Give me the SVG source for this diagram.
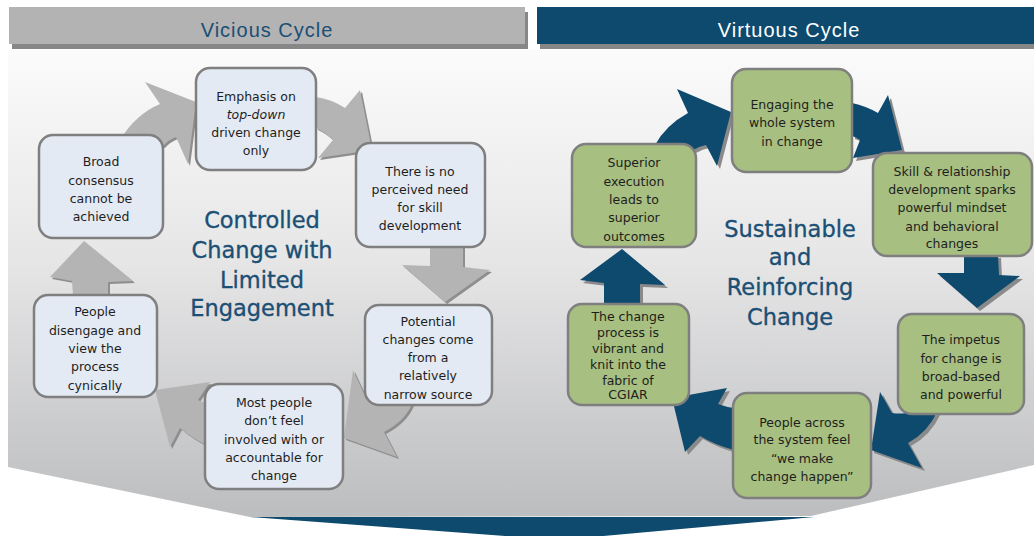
<svg xmlns="http://www.w3.org/2000/svg" xmlns:xlink="http://www.w3.org/1999/xlink" width="1034" height="536" viewBox="0 0 1034 536">
<style>
.hdrL{fill:#b3b3b3}
.hdrR{fill:#0d4a6e}
.hdrS{fill:#878787}
.htxt{font-family:"Liberation Sans",Arial,sans-serif;font-size:20px;letter-spacing:1px;text-anchor:middle}
.title{font-family:"DejaVu Sans",Verdana,sans-serif;font-size:22.5px;fill:#1b4f74;stroke:#1b4f74;stroke-width:0.35;text-anchor:middle}
.boxL{fill:#e4eaf3;stroke:#7f7f7f;stroke-width:2.5}
.boxR{fill:#a7bf80;stroke:#7f7f7f;stroke-width:2.5}
.t{font-family:"DejaVu Sans",Verdana,sans-serif;font-size:12.5px;fill:#1e1e1e;text-anchor:middle}
.ga{fill:#b4b4b4}
.gs{fill:#8e8e8e}
.ba{fill:#0d4a6e}
.bs{fill:#8a8a8a}
</style>
<defs>
<linearGradient id="bg" x1="0" y1="50" x2="0" y2="517" gradientUnits="userSpaceOnUse">
<stop offset="0" stop-color="#fbfbfb"/>
<stop offset="0.45" stop-color="#e6e6e7"/>
<stop offset="1" stop-color="#bcbdbf"/>
</linearGradient>
<path id="aA" d="M120 140 Q136 114 160 104 L145 82 L196 102 L188 164 L176 137 Q168 140 163 146 Z"/>
<path id="aB" d="M316 97 Q331 99 345 108 L360 90 L372 150 L318 158 L333 140 Q325 132 316 128 Z"/>
<path id="aC" d="M430 246 L430 266 L402 265 L445 302 L490 270 L463 267 L463 246 Z"/>
<path id="aD" d="M412 404 Q405 421 384 432 L397 457 L344 438 L353 370 L366 398 Q374 401 381 401 Z"/>
<path id="aE" d="M206 445 Q192 438 180 428 L170 447 L155 390 L210 382 L198 400 Q202 402 206 403 Z"/>
<path id="aF" d="M73 296 L72 281 L50 277 L84 241 L133 281 L108 282 L108 296 Z"/>
<path id="rA" d="M655 145 Q666 125 688 113 L677 89 L731 112 L717 166 L706 145 Q700 146 693 150 Z"/>
<path id="rB" d="M852 103 Q866 106 878 113 L888 95 L902 150 L853 158 L860 140 Q856 137 852 136 Z"/>
<path id="rC" d="M964 255 L964 273 L937 273 L977 308 L1020 276 L999 275 L998 255 Z"/>
<path id="rD" d="M937 412 Q928 432 908 443 L922 468 L871 450 L880 392 L892 413 Q900 414 906 413 Z"/>
<path id="rE" d="M734 450 Q715 445 700 436 L685 452 L672 398 L727 388 L718 404 Q726 407 734 408 Z"/>
<path id="rF" d="M604 305 L604 283 L580 280 L622 249 L665 285 L640 284 L640 305 Z"/>
</defs>

<g id="background">
<rect x="0" y="0" width="1034" height="536" fill="#ffffff"/>
<polygon points="8,50 1034,50 1034,465 811,516 250,517 8,467" fill="url(#bg)"/>
<polygon points="250,517 814,517 559,540" fill="#0d4a6e"/>
</g>

<g id="header-vicious">
<rect class="hdrS" x="12" y="12" width="516" height="37"/>
<rect class="hdrL" x="9" y="7" width="516" height="37"/>
<text class="htxt" x="267" y="37" fill="#1b4f74">Vicious Cycle</text>
</g>
<g id="header-virtuous">
<rect class="hdrS" x="540" y="12" width="494" height="37"/>
<rect class="hdrR" x="537" y="7" width="497" height="37"/>
<text class="htxt" x="789" y="37" fill="#ffffff">Virtuous Cycle</text>
</g>

<g id="connectors">
<use href="#aA" class="gs" transform="translate(2,2)"/><use href="#aA" class="ga"/>
<use href="#aB" class="gs" transform="translate(2,2)"/><use href="#aB" class="ga"/>
<use href="#aC" class="gs" transform="translate(2,2)"/><use href="#aC" class="ga"/>
<use href="#aD" class="gs" transform="translate(2,2)"/><use href="#aD" class="ga"/>
<use href="#aE" class="gs" transform="translate(2,2)"/><use href="#aE" class="ga"/>
<use href="#aF" class="gs" transform="translate(2,2)"/><use href="#aF" class="ga"/>
<use href="#rA" class="bs" transform="translate(3,3)"/><use href="#rA" class="ba"/>
<use href="#rB" class="bs" transform="translate(3,3)"/><use href="#rB" class="ba"/>
<use href="#rC" class="bs" transform="translate(3,3)"/><use href="#rC" class="ba"/>
<use href="#rD" class="bs" transform="translate(3,3)"/><use href="#rD" class="ba"/>
<use href="#rE" class="bs" transform="translate(3,3)"/><use href="#rE" class="ba"/>
<use href="#rF" class="bs" transform="translate(3,3)"/><use href="#rF" class="ba"/>
</g>

<g id="title-left">
<text class="title" x="262" y="228">Controlled</text>
<text class="title" x="262" y="258">Change with</text>
<text class="title" x="262" y="288">Limited</text>
<text class="title" x="262" y="316">Engagement</text>
</g>
<g id="title-right">
<text class="title" x="790" y="237">Sustainable</text>
<text class="title" x="790" y="265">and</text>
<text class="title" x="790" y="295">Reinforcing</text>
<text class="title" x="790" y="325">Change</text>
</g>

<g id="node-emphasis">
<rect class="boxL" x="196" y="68" width="120" height="102" rx="14"/>
<text class="t" x="256" y="101">Emphasis on</text>
<text class="t" x="256" y="119" font-style="italic">top-down</text>
<text class="t" x="256" y="137">driven change</text>
<text class="t" x="256" y="155">only</text>
</g>
<g id="node-broad">
<rect class="boxL" x="39" y="135" width="124" height="103" rx="14"/>
<text class="t" x="101" y="166">Broad</text>
<text class="t" x="101" y="185">consensus</text>
<text class="t" x="101" y="203">cannot be</text>
<text class="t" x="101" y="221">achieved</text>
</g>
<g id="node-noneed">
<rect class="boxL" x="356" y="143" width="129" height="104" rx="14"/>
<text class="t" x="420" y="176">There is no</text>
<text class="t" x="420" y="194">perceived need</text>
<text class="t" x="420" y="212">for skill</text>
<text class="t" x="420" y="230">development</text>
</g>
<g id="node-disengage">
<rect class="boxL" x="34" y="295" width="123" height="102" rx="14"/>
<text class="t" x="95" y="316">People</text>
<text class="t" x="95" y="335">disengage and</text>
<text class="t" x="95" y="353">view the</text>
<text class="t" x="95" y="371">process</text>
<text class="t" x="95" y="390">cynically</text>
</g>
<g id="node-potential">
<rect class="boxL" x="365" y="305" width="127" height="100" rx="14"/>
<text class="t" x="428" y="326">Potential</text>
<text class="t" x="428" y="344">changes come</text>
<text class="t" x="428" y="362">from a</text>
<text class="t" x="428" y="380">relatively</text>
<text class="t" x="428" y="399">narrow source</text>
</g>
<g id="node-most">
<rect class="boxL" x="205" y="384" width="138" height="105" rx="14"/>
<text class="t" x="274" y="407">Most people</text>
<text class="t" x="274" y="425">don’t feel</text>
<text class="t" x="274" y="444">involved with or</text>
<text class="t" x="274" y="462">accountable for</text>
<text class="t" x="274" y="480">change</text>
</g>

<g id="node-engaging">
<rect class="boxR" x="732" y="69" width="120" height="103" rx="14"/>
<text class="t" x="792" y="109">Engaging the</text>
<text class="t" x="792" y="127">whole system</text>
<text class="t" x="792" y="146">in change</text>
</g>
<g id="node-skill">
<rect class="boxR" x="873" y="153" width="159" height="103" rx="14"/>
<text class="t" x="952" y="176">Skill &amp; relationship</text>
<text class="t" x="952" y="194">development sparks</text>
<text class="t" x="952" y="212">powerful mindset</text>
<text class="t" x="952" y="231">and behavioral</text>
<text class="t" x="952" y="248">changes</text>
</g>
<g id="node-superior">
<rect class="boxR" x="572" y="144" width="124" height="103" rx="14"/>
<text class="t" x="634" y="167">Superior</text>
<text class="t" x="634" y="186">execution</text>
<text class="t" x="634" y="204">leads to</text>
<text class="t" x="634" y="222">superior</text>
<text class="t" x="634" y="241">outcomes</text>
</g>
<g id="node-vibrant">
<rect class="boxR" x="568" y="304" width="121" height="101" rx="14"/>
<text class="t" x="628" y="321">The change</text>
<text class="t" x="628" y="337">process is</text>
<text class="t" x="628" y="353">vibrant and</text>
<text class="t" x="628" y="369">knit into the</text>
<text class="t" x="628" y="385">fabric of</text>
<text class="t" x="628" y="399">CGIAR</text>
</g>
<g id="node-impetus">
<rect class="boxR" x="898" y="314" width="126" height="100" rx="14"/>
<text class="t" x="961" y="344">The impetus</text>
<text class="t" x="961" y="363">for change is</text>
<text class="t" x="961" y="381">broad-based</text>
<text class="t" x="961" y="399">and powerful</text>
</g>
<g id="node-people">
<rect class="boxR" x="733" y="393" width="138" height="105" rx="14"/>
<text class="t" x="802" y="427">People across</text>
<text class="t" x="802" y="444">the system feel</text>
<text class="t" x="802" y="463">“we make</text>
<text class="t" x="802" y="481">change happen”</text>
</g>
</svg>
